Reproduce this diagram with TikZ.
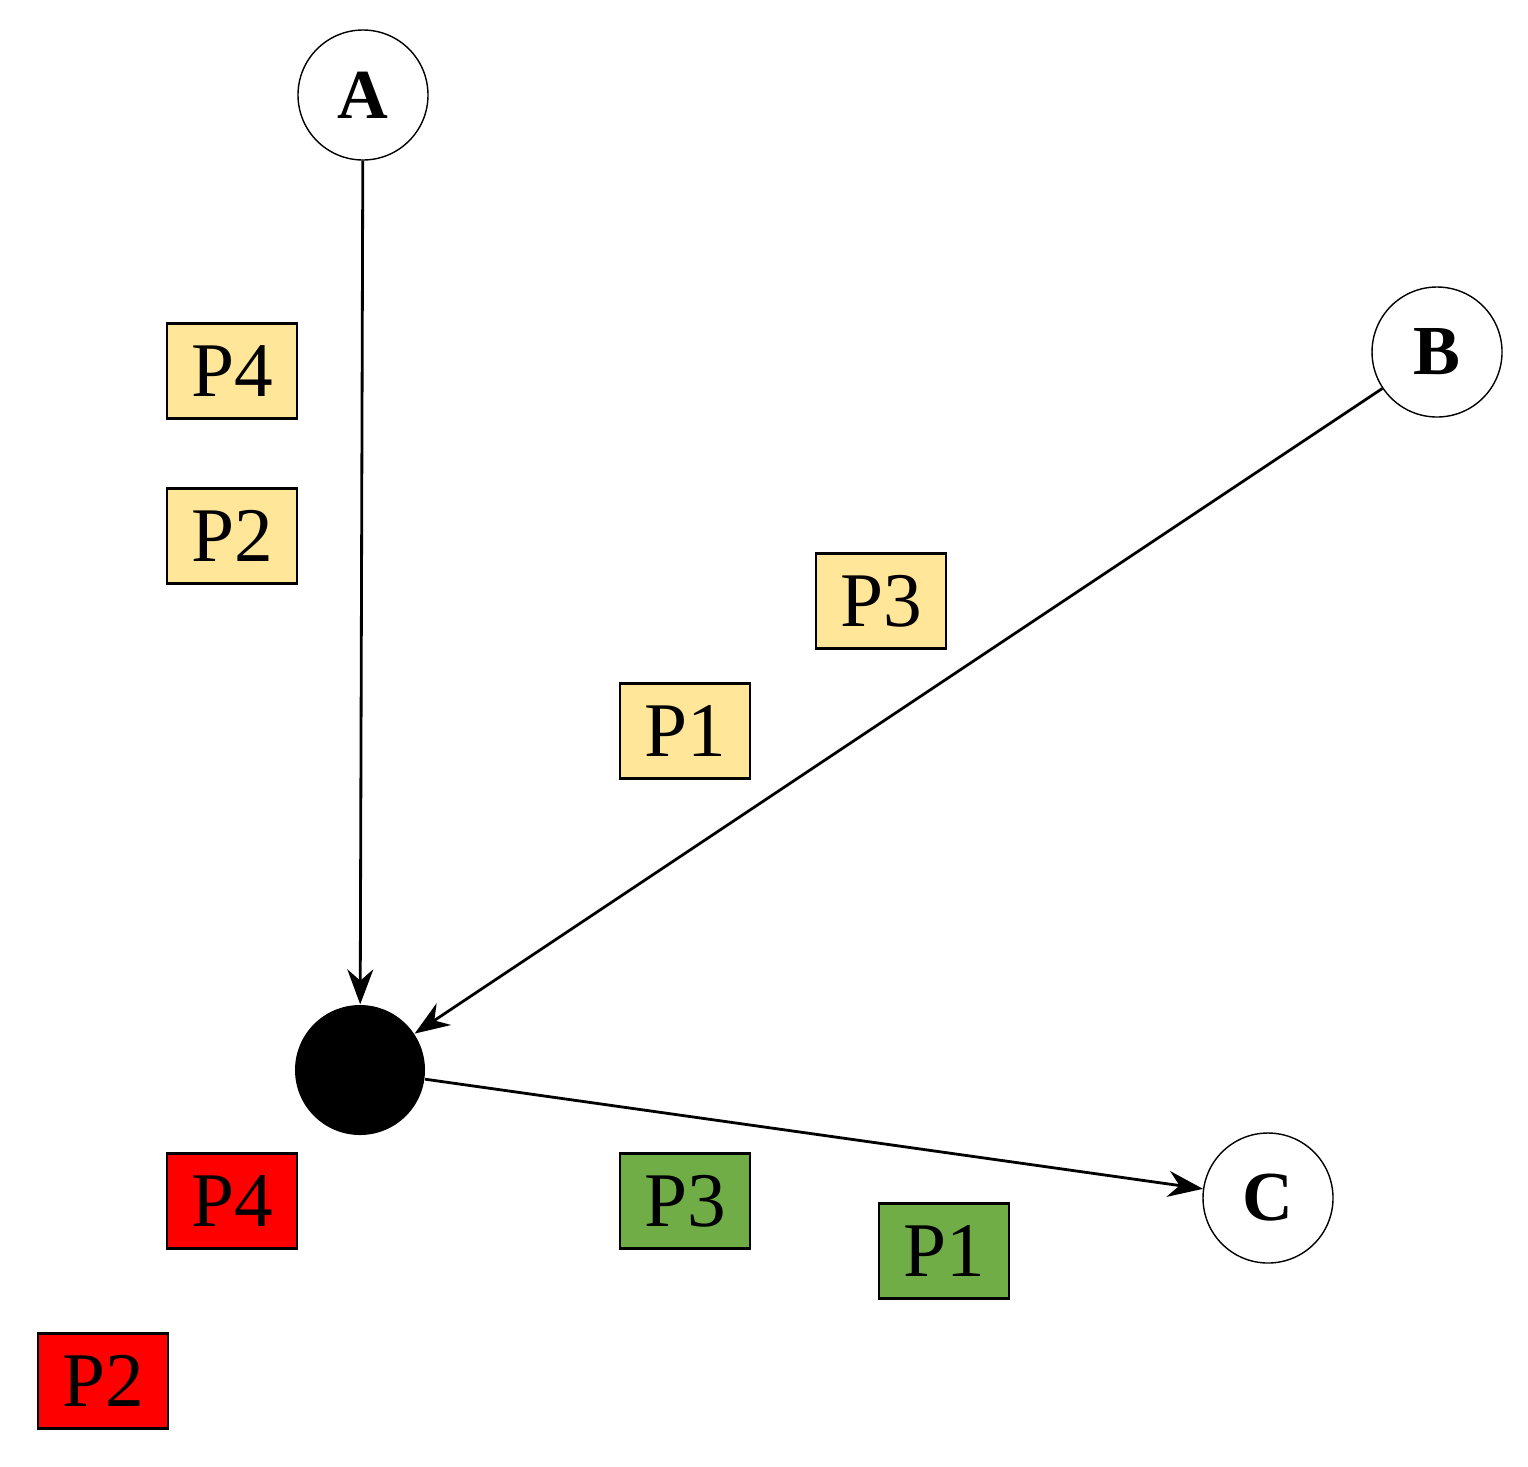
\documentclass[tikz,border=0pt]{standalone}
\usepackage{fontspec}
\setmainfont{Liberation Serif}
\usetikzlibrary{arrows.meta}
\definecolor{pyellow}{HTML}{FFE699}
\definecolor{pgreen}{HTML}{70AD47}
\begin{document}
\begin{tikzpicture}[
            place/.style = {circle, draw, minimum size=1.3cm, font=\fontsize{20}{24}\selectfont\bfseries},
            junction/.style = {circle, fill=black, minimum size=1.3cm},
            packet/.style = {rectangle, draw, thick, minimum width=1.3cm, minimum height=0.95cm, font=\fontsize{22}{26}\selectfont},
            every edge/.style = {draw, thick},
            >={Stealth[length=3.5mm, width=2.6mm]},
        ]
            \useasboundingbox (0,0) rectangle (15.28,-14.66);
            % Places and the junction
            \node[place] (A) at (3.63,-0.95) {A};
            \node[place] (B) at (14.37,-3.52) {B};
            \node[place] (C) at (12.68,-11.98) {C};
            \node[junction] (J) at (3.60,-10.70) {};

            % Packets on the way in
            \node[packet, fill=pyellow] (P4a) at (2.32,-3.71) {P4};
            \node[packet, fill=pyellow] (P2a) at (2.32,-5.36) {P2};
            \node[packet, fill=pyellow] (P3a) at (8.81,-6.01) {P3};
            \node[packet, fill=pyellow] (P1a) at (6.85,-7.31) {P1};

            % Packets on the way out
            \node[packet, fill=red] (P4b) at (2.32,-12.01) {P4};
            \node[packet, fill=red] (P2b) at (1.03,-13.81) {P2};
            \node[packet, fill=pgreen] (P3b) at (6.85,-12.01) {P3};
            \node[packet, fill=pgreen] (P1b) at (9.44,-12.51) {P1};

            % Flows
            \draw[->, thick] (A) -- (J);
            \draw[->, thick] (B) -- (J);
            \draw[->, thick] (J) -- (C);
        \end{tikzpicture}
\end{document}
